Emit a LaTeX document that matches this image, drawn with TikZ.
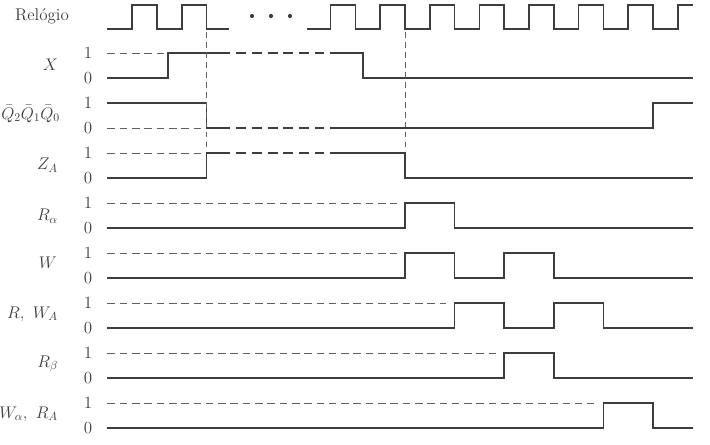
\documentclass[tikz,border=0pt]{standalone}
\usepackage{amsmath}
\usepackage{tikz}
\definecolor{qqqqqq}{rgb}{0.24,0.24,0.24}
\definecolor{wwwwww}{rgb}{0.38,0.38,0.38}
\tikzstyle{every node}=[font=\fontsize{14.5}{17}\selectfont,color=qqqqqq]

\begin{document}
\begin{tikzpicture}[line join=miter,x=0.03cm,y=-0.03cm,
    sig/.style={line width=1.3pt,color=qqqqqq},
    lvl/.style={line width=0.6pt,color=wwwwww,dash pattern=on 6.5pt off 4pt},
    skip/.style={line width=1.3pt,color=qqqqqq,dash pattern=on 8.5pt off 5pt},
    cut/.style={line width=0.6pt,color=wwwwww,dash pattern=on 5pt off 3.5pt}]
  \useasboundingbox (0,0) rectangle (710,444);
  % signal names
  \node [anchor=east] (relogio) at (73,16) {Relógio};
  \node [anchor=east] (nX) at (62,65) {$X$};
  \node [anchor=east] (nQ) at (64,114) {$\bar{Q}_2\bar{Q}_1\bar{Q}_0$};
  \node [anchor=east] (nZ) at (62,165) {$Z_A$};
  \node [anchor=east] (nRa) at (62,216) {$R_\alpha$};
  \node [anchor=east] (nW) at (61,263) {$W$};
  \node [anchor=east] (nRW) at (62,314) {$R,\ W_A$};
  \node [anchor=east] (nRb) at (62,364) {$R_\beta$};
  \node [anchor=east] (nWR) at (62,414) {$W_\alpha,\ R_A$};
  % levels
  \node (x1) at (88,53) {1};   \node (x0) at (88,78) {0};
  \node (q1) at (88,103) {1};  \node (q0) at (88,128) {0};
  \node (z1) at (88,153) {1};  \node (z0) at (88,178) {0};
  \node (ra1) at (88,203) {1}; \node (ra0) at (88,228) {0};
  \node (w1) at (88,253) {1};  \node (w0) at (88,278) {0};
  \node (rw1) at (88,303) {1}; \node (rw0) at (88,328) {0};
  \node (rb1) at (88,353) {1}; \node (rb0) at (88,378) {0};
  \node (wr1) at (88,403) {1}; \node (wr0) at (88,428) {0};
  % clock
  \draw [sig] (107.4,29) -- (132.2,29) -- (132.2,5) -- (157,5) -- (157,29) -- (181.8,29) -- (181.8,5) -- (206.6,5) -- (206.6,29) -- (229,29);
  \fill [qqqqqq] (252,16) circle (1.8pt) (271,16) circle (1.8pt) (290,16) circle (1.8pt);
  \draw [sig] (307,29) -- (330.6,29) -- (330.6,5) -- (355.4,5) -- (355.4,29) -- (380.2,29) -- (380.2,5) -- (405,5) -- (405,29) -- (429.8,29) -- (429.8,5) -- (454.6,5) -- (454.6,29) -- (479.4,29) -- (479.4,5) -- (504.2,5) -- (504.2,29) -- (529,29) -- (529,5) -- (553.8,5) -- (553.8,29) -- (578.6,29) -- (578.6,5) -- (603.4,5) -- (603.4,29) -- (628.2,29) -- (628.2,5) -- (653,5) -- (653,29) -- (677.8,29) -- (677.8,5) -- (692.7,5);
  % X
  \draw [lvl] (107.4,53) -- (168,53);
  \draw [sig] (107.4,78) -- (168,78) -- (168,53) -- (230,53);
  \draw [skip] (236,53) -- (324,53);
  \draw [sig] (330,53) -- (363,53) -- (363,78) -- (692.7,78);
  % Q2Q1Q0
  \draw [lvl] (107.4,128) -- (206.6,128);
  \draw [sig] (107.4,103) -- (206.6,103) -- (206.6,128) -- (230,128);
  \draw [skip] (236,128) -- (324,128);
  \draw [sig] (330,128) -- (653,128) -- (653,103) -- (692.7,103);
  % ZA
  \draw [lvl] (107.4,153) -- (206.6,153);
  \draw [sig] (107.4,178) -- (206.6,178) -- (206.6,153) -- (230,153);
  \draw [skip] (236,153) -- (324,153);
  \draw [sig] (330,153) -- (405,153) -- (405,178) -- (692.7,178);
  % R alpha
  \draw [lvl] (107.4,203) -- (397,203);
  \draw [sig] (107.4,228) -- (405,228) -- (405,203) -- (454.6,203) -- (454.6,228) -- (692.7,228);
  % W
  \draw [lvl] (107.4,253) -- (397,253);
  \draw [sig] (107.4,278) -- (405,278) -- (405,253) -- (454.6,253) -- (454.6,278) -- (504.2,278) -- (504.2,253) -- (553.8,253) -- (553.8,278) -- (692.7,278);
  % R, WA
  \draw [lvl] (107.4,303) -- (446,303);
  \draw [sig] (107.4,328) -- (454.6,328) -- (454.6,303) -- (504.2,303) -- (504.2,328) -- (553.8,328) -- (553.8,303) -- (603.4,303) -- (603.4,328) -- (692.7,328);
  % R beta
  \draw [lvl] (107.4,353) -- (496,353);
  \draw [sig] (107.4,378) -- (504.2,378) -- (504.2,353) -- (553.8,353) -- (553.8,378) -- (692.7,378);
  % W alpha, RA
  \draw [lvl] (107.4,403) -- (594,403);
  \draw [sig] (107.4,428) -- (603.4,428) -- (603.4,403) -- (653,403) -- (653,428) -- (692.7,428);
  % time marks
  \draw [cut] (206.6,32) -- (206.6,150);
  \draw [cut] (405,32) -- (405,150);
\end{tikzpicture}
\end{document}
